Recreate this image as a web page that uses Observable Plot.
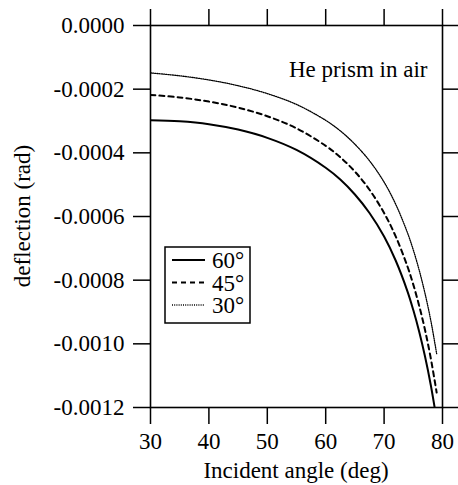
<!DOCTYPE html>
<html>
<head>
<meta charset="utf-8">
<script src="https://cdn.jsdelivr.net/npm/d3@7"></script>
<script src="https://cdn.jsdelivr.net/npm/@observablehq/plot@0.6"></script>
<style>
  html, body { margin: 0; padding: 0; background: #fff; }
  svg { display: block; }
</style>
</head>
<body>
<script>
// ---- data ----
const angles = [30, 35, 40, 45, 50, 55, 60, 62.5, 65, 67.5, 70, 72, 74, 75, 76, 77, 78, 79];
const dev60 = [-0.000298, -0.000301, -0.000310, -0.000327, -0.000353, -0.000391, -0.000447, -0.000484, -0.000531, -0.000589, -0.000663, -0.000739, -0.000835, -0.000894, -0.000961, -0.001039, -0.001130, -0.001239];
const dev45 = [-0.000218, -0.000226, -0.000239, -0.000258, -0.000285, -0.000323, -0.000378, -0.000414, -0.000459, -0.000516, -0.000589, -0.000663, -0.000757, -0.000814, -0.000880, -0.000956, -0.001046, -0.001153];
const dev30 = [-0.000149, -0.000158, -0.000171, -0.000189, -0.000214, -0.000248, -0.000298, -0.000331, -0.000373, -0.000425, -0.000492, -0.000562, -0.000651, -0.000705, -0.000768, -0.000841, -0.000927, -0.001031];
const seriesNames = ["60°", "45°", "30°"];
const xTicks = [30, 40, 50, 60, 70, 80];
const yTicks = [0, -0.0002, -0.0004, -0.0006, -0.0008, -0.0010, -0.0012];
const annotation = ["He prism in air"];
const xLabel = "Incident angle (deg)";
const yLabel = "deflection (rad)";

// ---- styles per series ----
const styles = {
  "60°": {strokeWidth: 2, dash: null},
  "45°": {strokeWidth: 2, dash: "5,4"},
  "30°": {strokeWidth: 1.3, dash: "1,1.2"}
};

const seriesValues = [dev60, dev45, dev30];
const rows = seriesNames.map((name, i) => angles.map((a, j) => ({series: name, angle: a, dev: seriesValues[i][j]})));

const font = "'Liberation Serif', 'Times New Roman', serif";
const fs = 23;

const W = 458, H = 485;
const mL = 150, mR = 16, mT = 25, mB = 78;

const chart = Plot.plot({
  width: W,
  height: H,
  marginLeft: mL,
  marginRight: mR,
  marginTop: mT,
  marginBottom: mB,
  style: {fontFamily: font, fontSize: fs + "px", color: "#000", background: "#fff", overflow: "visible"},
  x: {domain: [30, 80]},
  y: {domain: [-0.0012, 0]},
  marks: [
    Plot.axisX({anchor: "bottom", ticks: xTicks, tickSize: 17, tickPadding: 8, strokeWidth: 1.5, label: null, fontSize: fs}),
    Plot.axisX({anchor: "top", ticks: xTicks, tickSize: 17, strokeWidth: 1.5, tickFormat: () => "", label: null}),
    Plot.axisY({anchor: "left", ticks: yTicks, tickSize: 17, tickPadding: 9, strokeWidth: 1.5, tickFormat: d => d.toFixed(4), label: null, fontSize: fs}),
    Plot.axisY({anchor: "right", ticks: yTicks, tickSize: 17, strokeWidth: 1.5, tickFormat: () => "", label: null}),
    ...rows.map(r => Plot.line(r, {
      x: "angle", y: "dev", stroke: "#000",
      strokeWidth: styles[r[0].series].strokeWidth,
      strokeDasharray: styles[r[0].series].dash,
      curve: "catmull-rom",
      clip: true
    })),
    Plot.text(annotation, {text: d => d, frameAnchor: "top-right", dx: -15, dy: 44, textAnchor: "end", lineAnchor: "middle", fontSize: fs, fill: "#000"}),
    Plot.frame({stroke: "#000", strokeWidth: 1.6})
  ]
});

document.body.appendChild(chart);

// ---- axis titles and legend, placed relative to the plot frame ----
const svg = d3.select(chart);
const fx0 = mL, fx1 = W - mR, fy0 = mT, fy1 = H - mB;

svg.append("text")
  .attr("x", (fx0 + fx1) / 2)
  .attr("y", H - 7)
  .attr("text-anchor", "middle")
  .attr("font-family", font)
  .attr("font-size", fs)
  .attr("fill", "#000")
  .text(xLabel);

svg.append("text")
  .attr("transform", `translate(22,${(fy0 + fy1) / 2}) rotate(-90)`)
  .attr("text-anchor", "middle")
  .attr("dy", "0.35em")
  .attr("font-family", font)
  .attr("font-size", fs)
  .attr("fill", "#000")
  .text(yLabel);

// legend box
const lgX = fx0 + 15, lgY = fy0 + 222, lgW = 85, lgH = 76, rowH = 22.5;
const lg = svg.append("g");
lg.append("rect")
  .attr("x", lgX).attr("y", lgY).attr("width", lgW).attr("height", lgH)
  .attr("fill", "#fff").attr("stroke", "#000").attr("stroke-width", 1.5);
seriesNames.forEach((name, i) => {
  const cy = lgY + 13 + i * rowH;
  lg.append("line")
    .attr("x1", lgX + 7).attr("x2", lgX + 40)
    .attr("y1", cy).attr("y2", cy)
    .attr("stroke", "#000")
    .attr("stroke-width", styles[name].strokeWidth)
    .attr("stroke-dasharray", styles[name].dash);
  lg.append("text")
    .attr("x", lgX + 47).attr("y", cy)
    .attr("dy", "0.35em")
    .attr("text-anchor", "start")
    .attr("font-family", font)
    .attr("font-size", fs)
    .attr("fill", "#000")
    .text(name);
});
</script>
</body>
</html>
